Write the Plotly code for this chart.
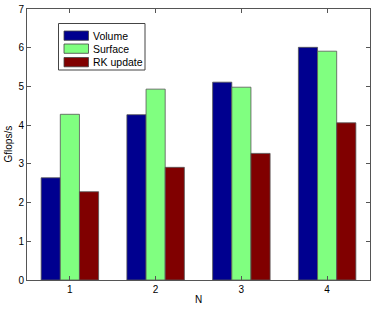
import plotly.graph_objects as go

categories = [1, 2, 3, 4]
volume = [2.64, 4.27, 5.11, 6.01]
surface = [4.28, 4.93, 4.98, 5.91]
rk_update = [2.28, 2.91, 3.27, 4.06]
series_names = ["Volume", "Surface", "RK update"]
colors = ["#00008F", "#80FF80", "#800000"]

L, R, T, B = 27, 4, 9, 29
W, H = 374, 309
pw, ph = W - L - R, H - T - B

def px_x(p):
    return (p - L) / pw

def px_y(p):
    return (H - B - p) / ph

fig = go.Figure()
for name, vals, c in zip(series_names, [volume, surface, rk_update], colors):
    fig.add_trace(go.Bar(x=categories, y=vals, name=name, marker_color=c,
                         marker_line=dict(color="#555555", width=0.8)))

axis_common = dict(showline=True, linecolor="#555555", linewidth=1, mirror="ticks",
                   ticks="inside", ticklen=4, tickcolor="#555555", showgrid=False,
                   zeroline=False, automargin=False, tickfont=dict(size=10, color="black"))
fig.update_layout(
    width=W, height=H,
    margin=dict(l=L, r=R, t=T, b=B),
    paper_bgcolor="white", plot_bgcolor="white",
    font=dict(family="Liberation Sans, Arial, sans-serif", size=10, color="black"),
    barmode="group", bargap=0.33, bargroupgap=0,
    xaxis=dict(range=[0.5, 4.5], tickvals=categories, ticktext=[str(c) for c in categories],
               **axis_common),
    yaxis=dict(range=[0, 7], dtick=1, **axis_common),
    showlegend=False,
)

# axis titles
fig.add_annotation(text="N", xref="paper", yref="paper", x=px_x(198), y=px_y(300),
                   showarrow=False, font=dict(size=10), xanchor="center", yanchor="middle")
fig.add_annotation(text="Gflops/s", xref="paper", yref="paper", x=px_x(8), y=0.5,
                   textangle=-90, showarrow=False, font=dict(size=10),
                   xanchor="center", yanchor="middle")

# legend box
fig.add_shape(type="rect", xref="paper", yref="paper",
              x0=px_x(58.5), x1=px_x(145), y0=px_y(70), y1=px_y(23.5),
              line=dict(color="#444444", width=1), fillcolor="white", layer="above")
row_tops = [31, 44, 57.5]
for name, c, top in zip(series_names, colors, row_tops):
    fig.add_shape(type="rect", xref="paper", yref="paper",
                  x0=px_x(64), x1=px_x(88.5), y0=px_y(top + 9.3), y1=px_y(top),
                  line=dict(color="#444444", width=0.8), fillcolor=c, layer="above")
    fig.add_annotation(text=name, xref="paper", yref="paper", x=px_x(90.5),
                       y=px_y(top + 4.8), showarrow=False, font=dict(size=10.5),
                       xanchor="left", yanchor="middle")

fig.write_html("out.html", config={"displayModeBar": False},
               post_script="document.body.style.margin='0';document.body.style.overflow='hidden';")
